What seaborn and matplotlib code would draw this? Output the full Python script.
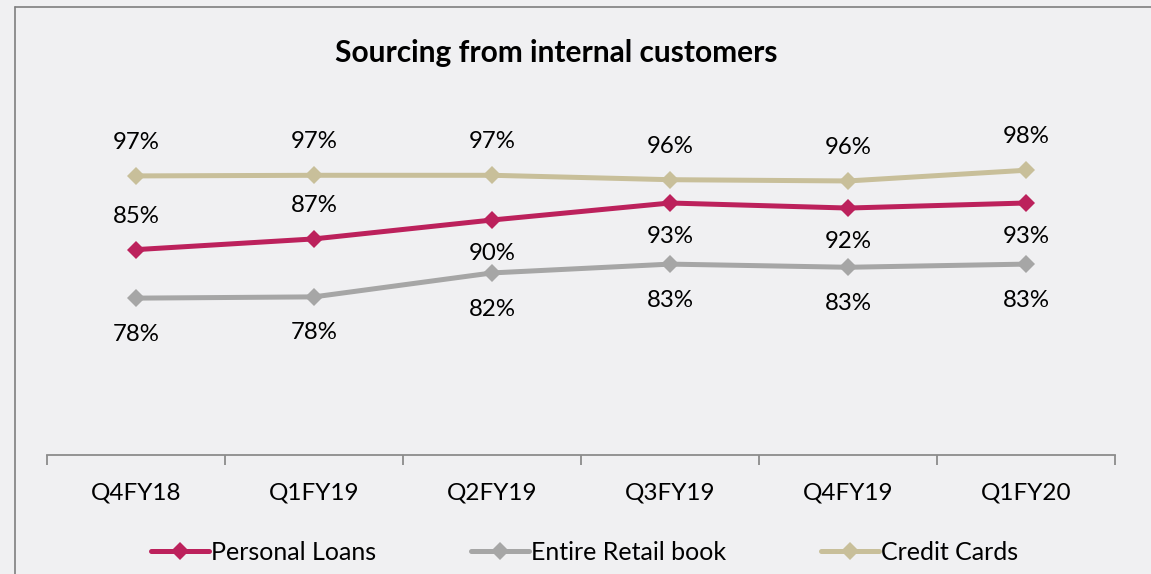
import pandas as pd
import seaborn as sns
import matplotlib.pyplot as plt
from matplotlib.lines import Line2D

# Data
quarters = ['Q4FY18', 'Q1FY19', 'Q2FY19', 'Q3FY19', 'Q4FY19', 'Q1FY20']
personal_loans = [85.3, 87.0, 90.0, 92.7, 91.9, 92.7]
retail_book = [77.6, 77.8, 81.6, 83.0, 82.5, 83.0]
credit_cards = [97.0, 97.1, 97.1, 96.4, 96.2, 97.9]

pl_labels = ['85%', '87%', '90%', '93%', '92%', '93%']
rb_labels = ['78%', '78%', '82%', '83%', '83%', '83%']
cc_labels = ['97%', '97%', '97%', '96%', '96%', '98%']

series = ['Personal Loans', 'Entire Retail book', 'Credit Cards']
colors = ['#BC215C', '#A6A6A6', '#C8BF9A']

df = pd.DataFrame({
    'quarter': quarters * 3,
    'value': personal_loans + retail_book + credit_cards,
    'series': [s for s in series for _ in quarters],
})
df['x'] = [i for _ in series for i in range(len(quarters))]

sns.set_style('white')
plt.rcParams['font.family'] = ['Lato', 'DejaVu Sans']
plt.rcParams['text.color'] = 'black'
plt.rcParams['xtick.color'] = 'black'
bg = '#F0F0F2'

fig = plt.figure(figsize=(11.51, 5.74), dpi=100, facecolor=bg)
ax = fig.add_axes([47 / 1151, 1 - 455 / 574, 1068 / 1151, 395 / 574])
ax.set_facecolor('none')

sns.lineplot(data=df, x='x', y='value', hue='series', hue_order=series,
             palette=colors, marker='D', markersize=9, markeredgewidth=0,
             linewidth=3.6, ax=ax, legend=False)

ax.set_xlim(-0.5, 5.5)
ax.set_ylim(52.7, 115.4)

# label placement: above or below each point
pl_pos = [1, 1, -1, -1, -1, -1]
for i in range(len(quarters)):
    ax.annotate(cc_labels[i], (i, credit_cards[i]), xytext=(0, 24),
                textcoords='offset points', ha='center', va='center', fontsize=17.3)
    ax.annotate(pl_labels[i], (i, personal_loans[i]), xytext=(0, 24 * pl_pos[i]),
                textcoords='offset points', ha='center', va='center', fontsize=17.3)
    ax.annotate(rb_labels[i], (i, retail_book[i]), xytext=(0, -26),
                textcoords='offset points', ha='center', va='center', fontsize=17.3)

for s in ['top', 'right', 'left']:
    ax.spines[s].set_visible(False)
ax.spines['bottom'].set_color('#8C8C8C')
ax.spines['bottom'].set_linewidth(1.3)
ax.set_yticks([])
ax.set_xticks(range(len(quarters)))
ax.set_xticklabels(quarters, fontsize=17.5)
ax.tick_params(axis='x', which='major', bottom=False, length=0, pad=20,
               labelcolor='black')
ax.set_xticks([i - 0.5 for i in range(len(quarters) + 1)], minor=True)
ax.tick_params(axis='x', which='minor', bottom=True, direction='out',
               length=7, width=1.3, color='#8C8C8C')
ax.set_xlabel('')
ax.set_ylabel('')

fig.text(556 / 1151, 1 - 53 / 574, 'Sourcing from internal customers',
         ha='center', va='center', fontsize=21.5, fontweight='bold')

handles = [Line2D([], [], color=c, marker='D', markersize=9, markeredgewidth=0,
                  linewidth=3.6) for c in colors]
fig.legend(handles, series, loc='center', bbox_to_anchor=(0.508, 1 - 552 / 574),
           ncol=3, frameon=False, fontsize=18, handlelength=2.3,
           handletextpad=0.1, columnspacing=3.8)

# frame lines of the slide box
fig.add_artist(Line2D([15 / 1151, 1], [1 - 7 / 574, 1 - 7 / 574],
                      transform=fig.transFigure, color='#7F7F7F', linewidth=1.2))
fig.add_artist(Line2D([15 / 1151, 15 / 1151], [0, 1 - 7 / 574],
                      transform=fig.transFigure, color='#7F7F7F', linewidth=1.2))

plt.savefig('out.png', dpi=100, facecolor=bg)
